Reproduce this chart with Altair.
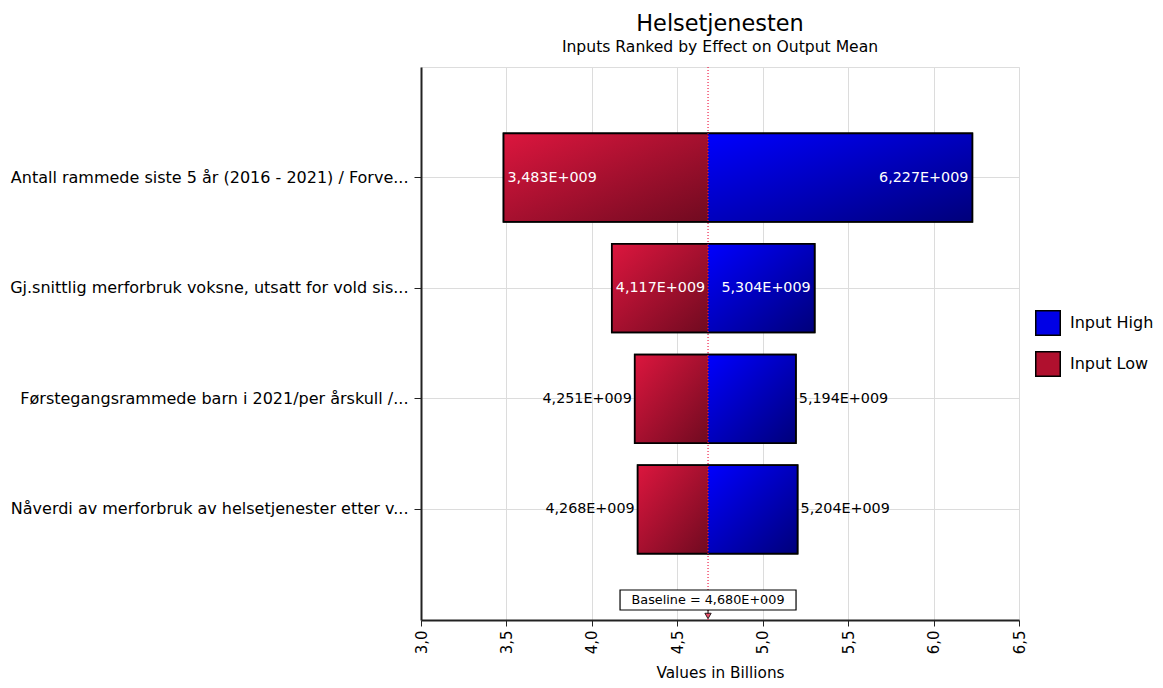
import altair as alt
import pandas as pd

# ---- data ----
categories = [
    "Antall rammede siste 5 år (2016 - 2021) / Forve...",
    "Gj.snittlig merforbruk voksne, utsatt for vold sis...",
    "Førstegangsrammede barn i 2021/per årskull /...",
    "Nåverdi av merforbruk av helsetjenester etter v...",
]
low_values = [3.483, 4.117, 4.251, 4.268]     # billions
high_values = [6.227, 5.304, 5.194, 5.204]    # billions
baseline = 4.680
x_ticks = [3.0, 3.5, 4.0, 4.5, 5.0, 5.5, 6.0, 6.5]

FONT = "DejaVu Sans"


def fmt(v):
    return f"{v:.3f}".replace(".", ",") + "E+009"


wide = pd.DataFrame({"cat": categories, "low": low_values, "high": high_values})
wide["base"] = baseline

rows = []
for c, lo, hi in zip(categories, low_values, high_values):
    rows.append({"cat": c, "side": "Input Low", "start": lo, "end": baseline,
                 "value": lo, "label": fmt(lo), "inside": (baseline - lo) > 0.54})
    rows.append({"cat": c, "side": "Input High", "start": baseline, "end": hi,
                 "value": hi, "label": fmt(hi), "inside": (hi - baseline) > 0.54})
long = pd.DataFrame(rows)

ysc = alt.Scale(domain=categories, paddingInner=0.2, paddingOuter=0.6)
xsc = alt.Scale(domain=[3.0, 6.5], nice=False, zero=False)

y_enc = alt.Y("cat:N", scale=ysc, sort=categories, title=None,
              axis=alt.Axis(labelFont=FONT, labelFontSize=16, labelColor="black",
                            labelLimit=500, tickColor="#222", tickSize=7,
                            domainColor="#222", domainWidth=2, bandPosition=0.5,
                            gridColor="#dcdcdc", grid=True, labelPadding=6))
x_enc = alt.X("start:Q", scale=xsc, title="Values in Billions",
              axis=alt.Axis(values=x_ticks, labelAngle=270, labelAlign="right",
                            labelBaseline="middle",
                            labelExpr="replace(format(datum.value, '.1f'), '.', ',')",
                            labelFont=FONT, labelFontSize=15, labelColor="black",
                            titleFont=FONT, titleFontSize=15.3, titleFontWeight="normal",
                            titleColor="black", tickColor="#222", tickSize=6,
                            domainColor="#222", domainWidth=2, titlePadding=12,
                            gridColor="#dcdcdc", labelPadding=4))

base = alt.Chart(long)

legend_bars = base.mark_bar(stroke="black", strokeWidth=1.5).encode(
    y=y_enc, x=x_enc, x2="end:Q",
    color=alt.Color("side:N",
                    scale=alt.Scale(domain=["Input High", "Input Low"],
                                    range=["#0000e6", "#b0102e"]),
                    legend=alt.Legend(title=None, orient="none", legendX=614, legendY=243,
                                      symbolType="square", symbolSize=600,
                                      symbolStrokeColor="black", symbolStrokeWidth=1.5,
                                      labelFont=FONT, labelFontSize=16, labelColor="black",
                                      labelOffset=9, rowPadding=9, symbolOpacity=1)),
)

red_grad = alt.LinearGradient(gradient="linear", x1=0, y1=0, x2=1, y2=1,
                              stops=[alt.GradientStop(color="#dc163e", offset=0),
                                     alt.GradientStop(color="#700a20", offset=1)])
blue_grad = alt.LinearGradient(gradient="linear", x1=0, y1=0, x2=1, y2=1,
                               stops=[alt.GradientStop(color="#0000ff", offset=0),
                                      alt.GradientStop(color="#00007a", offset=1)])

low_bars = base.transform_filter("datum.side == 'Input Low'").mark_bar(
    color=red_grad, strokeWidth=0).encode(y=alt.Y("cat:N", scale=ysc, sort=categories),
                                          x=alt.X("start:Q", scale=xsc), x2="end:Q")
high_bars = base.transform_filter("datum.side == 'Input High'").mark_bar(
    color=blue_grad, strokeWidth=0).encode(y=alt.Y("cat:N", scale=ysc, sort=categories),
                                           x=alt.X("start:Q", scale=xsc), x2="end:Q")

outline = alt.Chart(wide).mark_bar(fill="transparent", stroke="black", strokeWidth=1.8).encode(
    y=alt.Y("cat:N", scale=ysc, sort=categories),
    x=alt.X("low:Q", scale=xsc), x2="high:Q")

base_rule = alt.Chart(wide).mark_rule(color="#f0204a", strokeDash=[1, 2], strokeWidth=1.2).encode(
    x=alt.X("mean(base):Q", scale=xsc))


def labels(side, inside, align, dx, color):
    return base.transform_filter(
        f"datum.side == '{side}' && datum.inside == {str(inside).lower()}"
    ).mark_text(align=align, dx=dx, color=color, font=FONT, fontSize=14.3,
                baseline="middle").encode(
        y=alt.Y("cat:N", scale=ysc, sort=categories),
        x=alt.X("value:Q", scale=xsc), text="label:N")


t1 = labels("Input Low", True, "left", 4, "white")
t2 = labels("Input Low", False, "right", -3, "black")
t3 = labels("Input High", True, "right", -4, "white")
t4 = labels("Input High", False, "left", 3, "black")

bl = pd.DataFrame({"base": [baseline], "label": ["Baseline = " + fmt(baseline)]})
box_shape = "M-1,-0.1136L1,-0.1136L1,0.1136L-1,0.1136Z"
bl_box = alt.Chart(bl).mark_point(shape=box_shape, size=176 * 176, filled=True,
                                  fill="white", stroke="black", strokeWidth=1.2,
                                  opacity=1).encode(
    x=alt.X("base:Q", scale=xsc), y=alt.value(533))
bl_text = alt.Chart(bl).mark_text(font=FONT, fontSize=12.8, color="black").encode(
    x=alt.X("base:Q", scale=xsc), y=alt.value(533), text="label:N")
bl_stem = alt.Chart(bl).mark_rule(color="black", strokeWidth=1).encode(
    x=alt.X("base:Q", scale=xsc), y=alt.value(543), y2=alt.value(549))
bl_arrow = alt.Chart(bl).mark_point(shape="triangle-down", size=40, filled=True,
                                    fill="#e8506a", stroke="black", strokeWidth=0.8,
                                    opacity=1).encode(
    x=alt.X("base:Q", scale=xsc), y=alt.value(549))

chart = alt.layer(
    legend_bars, low_bars, high_bars, outline, base_rule,
    t1, t2, t3, t4, bl_box, bl_text, bl_stem, bl_arrow
).properties(
    width=598, height=553,
    padding={"left": 1, "top": 5, "right": 0, "bottom": 0},
    title=alt.TitleParams("Helsetjenesten",
                          subtitle="Inputs Ranked by Effect on Output Mean",
                          font=FONT, fontSize=22.4, fontWeight="normal", color="black",
                          subtitleFont=FONT, subtitleFontSize=15.6, subtitleColor="black",
                          anchor="middle", frame="group", offset=11, subtitlePadding=4),
).configure_view(fill="#f4f4f4", stroke=None).configure(background="white")

chart.save("out.html", embed_options={"renderer": "svg", "actions": False})
